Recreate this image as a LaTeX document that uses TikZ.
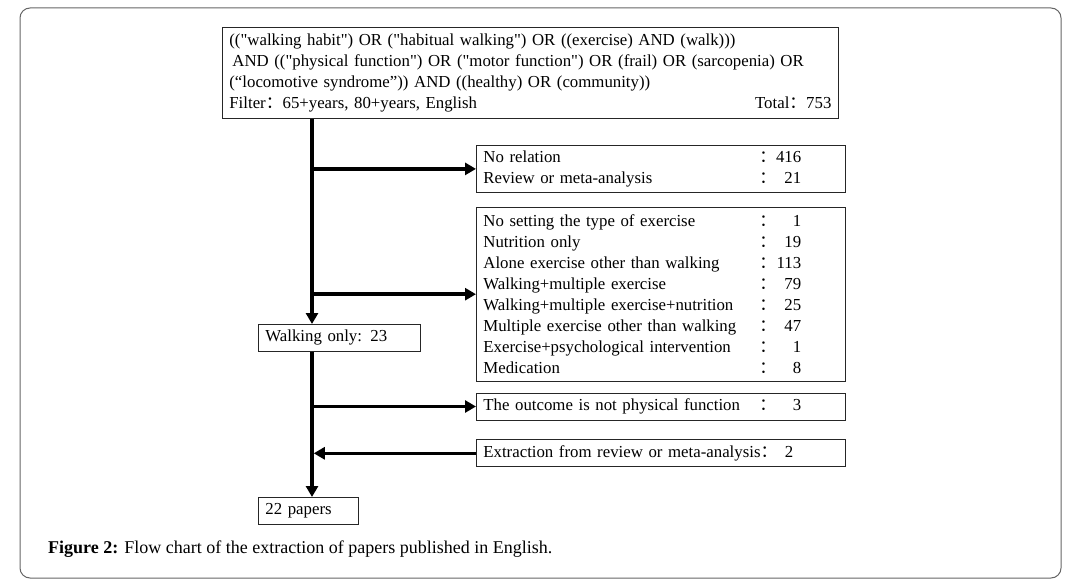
\documentclass[tikz,border=0pt]{standalone}
\usepackage{fontspec}
\setmainfont{Liberation Serif}[Ligatures=TeXOff]
\newfontfamily\cjk{Noto Sans CJK SC}
\usepackage{xcolor}
\usepackage{tikz}
\usetikzlibrary{positioning, arrows.meta}

% one counted line: label, full-width colon, number
\newcommand{\cnt}[2]{\makebox[276pt][l]{#1}{\cjk ：}\makebox[25pt][r]{#2}}

\begin{document}
\begin{tikzpicture}[
  x=1pt, y=-1pt,
  >={Triangle[length=11pt, width=12pt]},
  every node/.style={font=\fontsize{16.8}{21}\selectfont, inner ysep=3pt, inner xsep=7pt},
  box/.style={draw=black!85, line width=0.8pt, fill=white, align=left, text width=#1},
  box/.default={355pt},
  flow/.style={->, line width=3.5pt},
]
\fill[white] (0,0) rectangle (1083,585);
\useasboundingbox (0,0) rectangle (1083,585);

% Frame
\draw[black!60, line width=1pt, rounded corners=10pt] (20,8) rectangle (1061,578);

% Search query
\node[box=602pt, minimum height=91pt, anchor=north west] (query) at (222,27)
  {(("walking habit") OR ("habitual walking") OR ((exercise) AND (walk)))\\
   \hspace{3pt}AND (("physical function") OR ("motor function") OR (frail) OR (sarcopenia) OR\\
   (“locomotive syndrome”)) AND ((healthy) OR (community))\\
   Filter{\cjk ：}65+years, 80+years, English\hfill Total{\cjk ：}753\hspace{7pt}};

% Right column: excluded papers
\node[box, minimum height=47pt, anchor=north west] (norel) at (476,145)
  {\cnt{No relation}{416}\\\cnt{Review or meta-analysis}{21}};
\node[box, minimum height=174pt, below=14pt of norel] (excl)
  {\cnt{No setting the type of exercise}{1}\\
   \cnt{Nutrition only}{19}\\
   \cnt{Alone exercise other than walking}{113}\\
   \cnt{Walking+multiple exercise}{79}\\
   \cnt{Walking+multiple exercise+nutrition}{25}\\
   \cnt{Multiple exercise other than walking}{47}\\
   \cnt{Exercise+psychological intervention}{1}\\
   \cnt{Medication}{8}};
\node[box, minimum height=27pt, below=11pt of excl] (outc)
  {\cnt{The outcome is not physical function}{3}};
\node[box, minimum height=27pt, below=19pt of outc] (extr)
  {Extraction from review or meta-analysis{\cjk ：}\makebox[16pt][r]{2}};

% Left column
\node[box=148pt, minimum height=27pt, anchor=north west] (walk) at (258,324) {Walking only: 23};
\node[box=86pt, minimum height=27pt, anchor=north west] (papers) at (258,497) {22 papers};

% Edges
\coordinate (sp) at ([xshift=90pt]query.south west);
\draw[flow] (sp) -- (sp |- walk.north);
\draw[flow] (sp |- norel.west) -- (norel.west);
\draw[flow] (sp |- excl.west) -- (excl.west);
\draw[flow] (walk.south -| sp) -- (sp |- papers.north);
\draw[flow] (sp |- outc.west) -- (outc.west);
\draw[flow] (extr.west) -- ([xshift=1.75pt]sp |- extr.west);

% Caption
\node[anchor=west, inner sep=0pt, font=\fontsize{18}{21}\selectfont] (cap) at (48,549)
  {\textbf{Figure 2:} Flow chart of the extraction of papers published in English.};
\end{tikzpicture}
\end{document}
